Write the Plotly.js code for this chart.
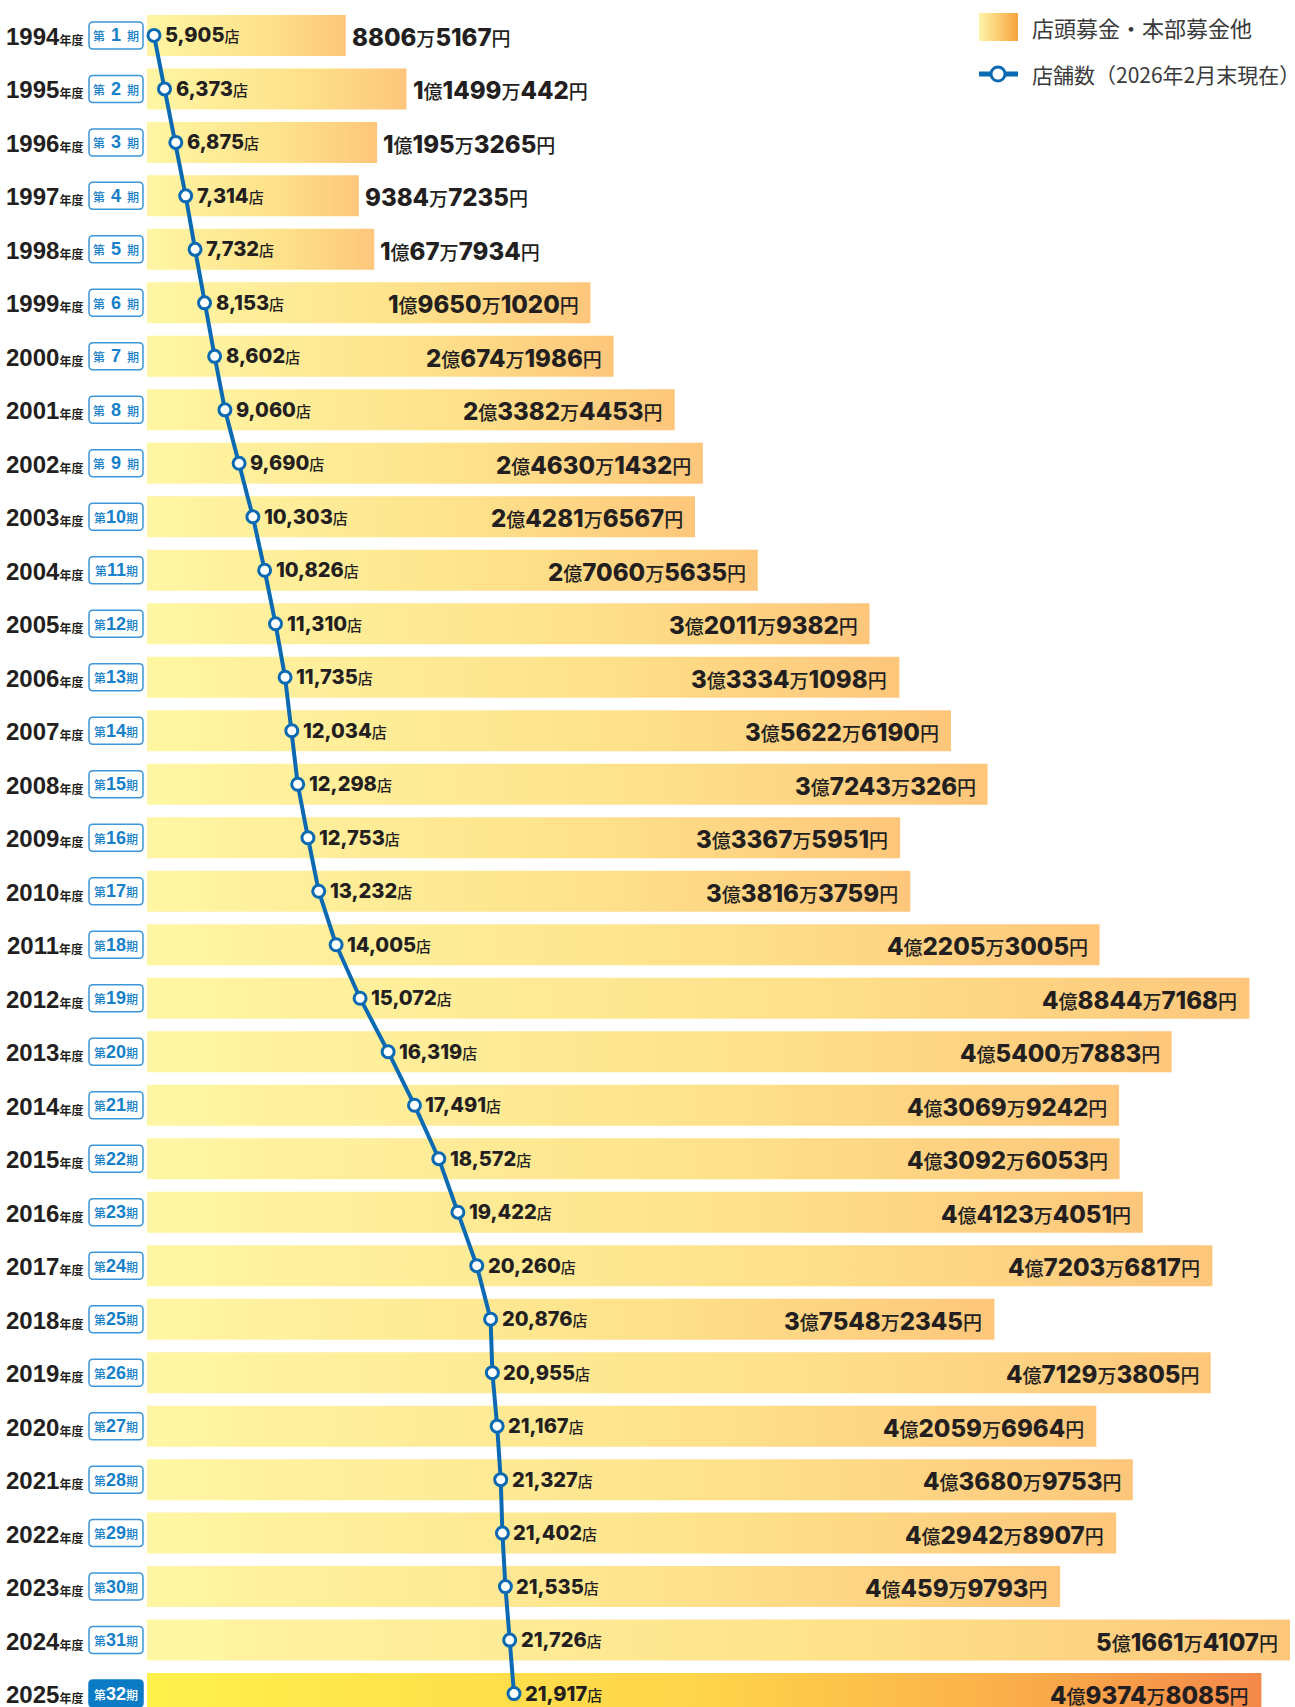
<!DOCTYPE html>
<html>
<head>
<meta charset="utf-8">
<script src="https://cdn.plot.ly/plotly-3.0.1.min.js"></script>
<style>
html,body{margin:0;padding:0;background:#fff;}
#chart{width:1295px;height:1707px;}
</style>
</head>
<body>
<div id="chart"></div>
<script>
// ---------------- data ----------------
const years = [1994,1995,1996,1997,1998,1999,2000,2001,2002,2003,2004,2005,2006,2007,2008,2009,
               2010,2011,2012,2013,2014,2015,2016,2017,2018,2019,2020,2021,2022,2023,2024,2025];
const periods = [1,2,3,4,5,6,7,8,9,10,11,12,13,14,15,16,17,18,19,20,21,22,23,24,25,26,27,28,29,30,31,32];
// 店頭募金・本部募金他 (円)
const donations = [88065167,114990442,101953265,93847235,100677934,196501020,206741986,233824453,
                   246301432,242816567,270605635,320119382,333341098,356226190,372430326,333675951,
                   338163759,422053005,488447168,454007883,430699242,430926053,441234051,472036817,
                   375482345,471293805,420596964,436809753,429428907,404599793,516614107,493748085];
// 店舗数
const stores = [5905,6373,6875,7314,7732,8153,8602,9060,9690,10303,10826,11310,11735,12034,12298,12753,
                13232,14005,15072,16319,17491,18572,19422,20260,20876,20955,21167,21327,21402,21535,21726,21917];
const legendLabels = ['店頭募金・本部募金他','店舗数（2026年2月末現在）'];

// ---------------- layout constants ----------------
const W = 1295, H = 1707, MR = 5, PW = W - MR;
const BAR0PX = 147, PX_PER_YEN = 2.257e-6;
const px2x = px => (px - BAR0PX) / PX_PER_YEN;
const ROW0PX = 35.4, ROWPX = 53.49;
const yTop = -ROW0PX / ROWPX, yBot = (H - ROW0PX) / ROWPX;
const BARHALF = 20.5 / ROWPX;
const ST_PX0 = 154, ST_REF = 5905, ST_PX_PER = 0.022483;
const px2s = px => ST_REF + (px - ST_PX0) / ST_PX_PER;
const xMax = px2x(PW);
const BLUE = '#0c6ab3';
const TXT = '#231f20';
const CJK = "'Noto Sans CJK JP'";
const NUMF = "Inter, 'Noto Sans CJK JP', sans-serif";

const scaleNormal = [[0,'#fff6a4'],[0.6,'#fee18a'],[1,'#fdc67b']];
const scaleLast = [[0,'#fff14c'],[0.5,'#ffd44a'],[0.75,'#fbb24a'],[1,'#f4884a']];

function yenLabel(v){
  const oku = Math.floor(v / 1e8), man = Math.floor((v % 1e8) / 1e4), en = v % 1e4;
  const u = c => `<span style="font-size:19px;font-weight:500;font-family:${CJK}">${c}</span>`;
  const d = n => `<span style="font-weight:800">${n}</span>`;
  let s = '';
  if (oku > 0) s += d(oku) + u('億');
  if (man > 0) s += d(man) + u('万');
  s += d(en) + u('円');
  return s;
}

const traces = [];
const annotations = [];
const shapes = [];

years.forEach((yr, i) => {
  const v = donations[i];
  traces.push({
    type:'scatter', mode:'lines', x:[0, v, v, 0, 0],
    y:[i-BARHALF, i-BARHALF, i+BARHALF, i+BARHALF, i-BARHALF],
    fill:'toself', line:{width:0, color:'rgba(0,0,0,0)'},
    fillgradient:{type:'horizontal', colorscale: i === years.length-1 ? scaleLast : scaleNormal},
    hoverinfo:'skip', xaxis:'x', yaxis:'y'
  });
  // value label
  const inside = v >= 150e6;
  annotations.push({
    xref:'x', yref:'y', x: inside ? Math.min(v, xMax) : v, y:i,
    xanchor: inside ? 'right' : 'left', yanchor:'middle',
    xshift: inside ? -10 : 4, yshift:-2, showarrow:false,
    text: yenLabel(v), font:{family:NUMF, size:24, color:TXT}
  });
  // year label
  annotations.push({
    xref:'x', yref:'y', x:px2x(85), y:i, xanchor:'right', yanchor:'middle', yshift:-1, showarrow:false,
    text:`<b>${yr}</b><b><span style="font-size:12px;font-family:${CJK}">年度</span></b>`,
    font:{family:"'Liberation Sans', Arial, sans-serif", size:24, color:TXT}
  });
  // period badge
  const last = i === years.length-1;
  shapes.push({
    type:'path', xref:'x', yref:'y', xsizemode:'pixel', ysizemode:'pixel',
    xanchor:px2x(116), yanchor:i,
    path:'M -23,-13.5 L 23,-13.5 Q 27,-13.5 27,-9.5 L 27,9.5 Q 27,13.5 23,13.5 L -23,13.5 Q -27,13.5 -27,9.5 L -27,-9.5 Q -27,-13.5 -23,-13.5 Z',
    fillcolor: last ? '#0b7bc6' : '#ffffff', line:{color: last ? '#0b7bc6' : '#3d96d8', width:1.5}
  });
  const p = periods[i];
  const sp = p < 10 ? '\u2002' : '';
  annotations.push({
    xref:'x', yref:'y', x:px2x(116), y:i, xanchor:'center', yanchor:'middle', showarrow:false,
    text:`第${sp}<b><span style="font-size:18px;font-family:'Liberation Sans'">${p}</span></b>${sp}期`,
    font:{family:CJK, size:12, weight:500, color: last ? '#ffffff' : '#1680c9'}
  });
  // store count label
  annotations.push({
    xref:'x2', yref:'y', x:stores[i], y:i, xanchor:'left', yanchor:'middle', xshift:9, showarrow:false,
    text:`<span style="font-weight:800">${stores[i].toLocaleString('en-US')}</span><span style="font-size:15px;font-weight:500;font-family:${CJK}">店</span>`,
    font:{family:NUMF, size:20, color:TXT}
  });
});

// store count line
traces.push({
  type:'scatter', mode:'lines+markers', x:stores, y:years.map((_, i) => i),
  xaxis:'x2', yaxis:'y', line:{color:BLUE, width:4},
  marker:{symbol:'circle', size:12, color:'#ffffff', line:{color:BLUE, width:3}},
  hoverinfo:'skip', cliponaxis:false
});

// legend swatch (own small axes)
traces.push({
  type:'scatter', mode:'lines', x:[0,1,1,0,0], y:[0,0,1,1,0], xaxis:'x3', yaxis:'y3',
  fill:'toself', line:{width:0, color:'rgba(0,0,0,0)'},
  fillgradient:{type:'horizontal', colorscale:[[0,'#fff4a8'],[1,'#f8a43c']]}, hoverinfo:'skip'
});
const ppx = px => px / PW, ppy = py => 1 - py / H;
shapes.push({type:'line', xref:'paper', yref:'paper', x0:ppx(979), x1:ppx(1018), y0:ppy(74), y1:ppy(74),
             line:{color:BLUE, width:5}});
shapes.push({type:'circle', xref:'paper', yref:'paper', x0:ppx(991), x1:ppx(1005), y0:ppy(81), y1:ppy(67),
             fillcolor:'#ffffff', line:{color:BLUE, width:3}});
annotations.push({xref:'paper', yref:'paper', x:ppx(1030), y:ppy(27), xanchor:'left', yanchor:'middle',
  showarrow:false, text:legendLabels[0], font:{family:CJK, size:22, color:'#3a3a3a'}});
annotations.push({xref:'paper', yref:'paper', x:ppx(1030), y:ppy(74), xanchor:'left', yanchor:'middle',
  showarrow:false, text:legendLabels[1], font:{family:CJK, size:21, color:'#3a3a3a'}});

const hidden = {visible:false, showgrid:false, zeroline:false, showticklabels:false, fixedrange:true};
const layout = {
  width:W, height:H, margin:{l:0, r:MR, t:0, b:0, pad:0},
  paper_bgcolor:'#ffffff', plot_bgcolor:'rgba(0,0,0,0)', showlegend:false,
  xaxis:Object.assign({range:[px2x(0), xMax], domain:[0,1]}, hidden),
  xaxis2:Object.assign({range:[px2s(0), px2s(PW)], overlaying:'x', anchor:'y'}, hidden),
  yaxis:Object.assign({range:[yBot, yTop], domain:[0,1]}, hidden),
  xaxis3:Object.assign({range:[0,1], domain:[ppx(979), ppx(1018)], anchor:'y3'}, hidden),
  yaxis3:Object.assign({range:[0,1], domain:[ppy(41), ppy(13)], anchor:'x3'}, hidden),
  annotations, shapes
};
Plotly.newPlot('chart', traces, layout, {displayModeBar:false, staticPlot:true});
</script>
</body>
</html>
